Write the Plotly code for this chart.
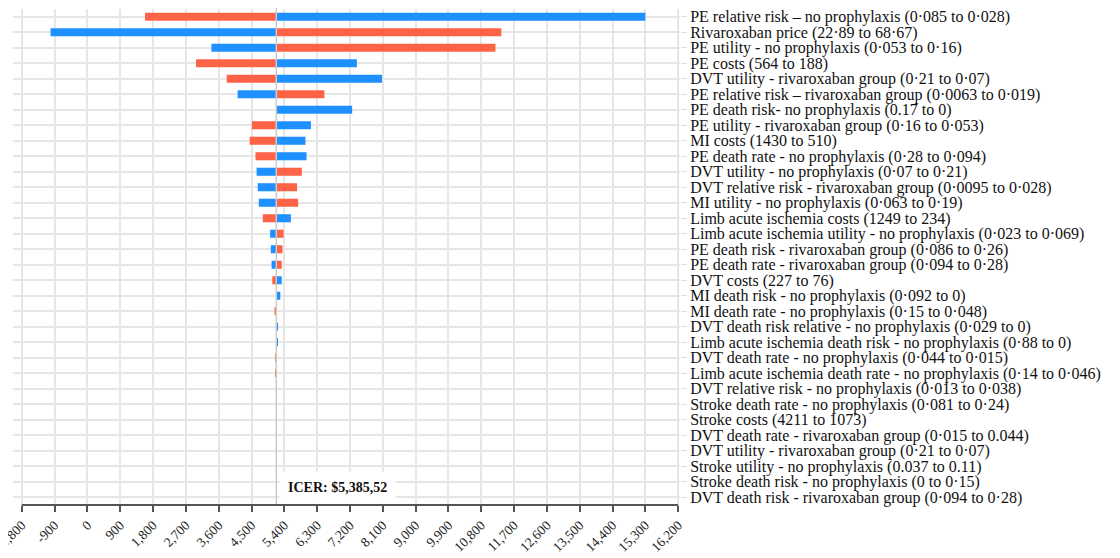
import plotly.graph_objects as go

# ---------------- data ----------------
parameters = [
    "PE relative risk – no prophylaxis (0·085 to 0·028)",
    "Rivaroxaban price (22·89 to 68·67)",
    "PE utility - no prophylaxis (0·053 to 0·16)",
    "PE costs (564 to 188)",
    "DVT utility - rivaroxaban group (0·21 to 0·07)",
    "PE relative risk – rivaroxaban group (0·0063 to 0·019)",
    "PE death risk- no prophylaxis (0.17 to 0)",
    "PE utility - rivaroxaban group (0·16 to 0·053)",
    "MI costs (1430 to 510)",
    "PE death rate - no prophylaxis (0·28 to 0·094)",
    "DVT utility - no prophylaxis (0·07 to 0·21)",
    "DVT relative risk - rivaroxaban group (0·0095 to 0·028)",
    "MI utility - no prophylaxis (0·063 to 0·19)",
    "Limb acute ischemia costs (1249 to 234)",
    "Limb acute ischemia utility - no prophylaxis (0·023 to 0·069)",
    "PE death risk - rivaroxaban group (0·086 to 0·26)",
    "PE death rate - rivaroxaban group (0·094 to 0·28)",
    "DVT costs (227 to 76)",
    "MI death risk - no prophylaxis (0·092 to 0)",
    "MI death rate - no prophylaxis (0·15 to 0·048)",
    "DVT death risk relative - no prophylaxis (0·029 to 0)",
    "Limb acute ischemia death risk - no prophylaxis (0·88 to 0)",
    "DVT death rate - no prophylaxis (0·044 to 0·015)",
    "Limb acute ischemia death rate - no prophylaxis (0·14 to 0·046)",
    "DVT relative risk - no prophylaxis (0·013 to 0·038)",
    "Stroke death rate - no prophylaxis (0·081 to 0·24)",
    "Stroke costs (4211 to 1073)",
    "DVT death rate - rivaroxaban group (0·015 to 0.044)",
    "DVT utility - rivaroxaban group (0·21 to 0·07)",
    "Stroke utility - no prophylaxis (0.037 to 0.11)",
    "Stroke death risk - no prophylaxis (0 to 0·15)",
    "DVT death risk - rivaroxaban group (0·094 to 0·28)",
]

# ICER base line (as drawn on the axis) and the annotation text
icer_base = 5180
icer_label = "ICER: $5,385,52"

# ICER at the end of the red bar and of the blue bar for each parameter
red_icer = [1580, 11350, 11190, 2980, 3820, 6500, 5180, 4510, 4450, 4610,
            5880, 5750, 5780, 4810, 5380, 5350, 5330, 5070, 5180, 5130,
            5180, 5180, 5145, 5145, 5180, 5180, 5180, 5180, 5180, 5180,
            5180, 5180]
blue_icer = [15300, -1010, 3400, 7390, 8080, 4120, 7260, 6130, 5980, 6010,
             4640, 4670, 4700, 5580, 5010, 5030, 5050, 5330, 5290, 5180,
             5225, 5215, 5180, 5180, 5180, 5180, 5180, 5180, 5180, 5180,
             5180, 5180]

x_tick_values = list(range(-1800, 16201, 900))
x_tick_labels = ["-1,800", "-900", "0", "900", "1,800", "2,700", "3,600",
                 "4,500", "5,400", "6,300", "7,200", "8,100", "9,000",
                 "9,900", "10,800", "11,700", "12,600", "13,500", "14,400",
                 "15,300", "16,200"]

# ---------------- figure ----------------
rows = list(range(len(parameters)))
RED = "#FF6347"
BLUE = "#1E90FF"
FONT = "Liberation Serif, Times New Roman, serif"

fig = go.Figure()
fig.add_trace(go.Bar(
    y=rows, x=[v - icer_base for v in red_icer], base=icer_base,
    orientation="h", marker=dict(color=RED, line=dict(width=0)),
    name="red", showlegend=False))
fig.add_trace(go.Bar(
    y=rows, x=[v - icer_base for v in blue_icer], base=icer_base,
    orientation="h", marker=dict(color=BLUE, line=dict(width=0)),
    name="blue", showlegend=False))

# ICER centre line
fig.add_shape(type="line", xref="x", yref="paper", x0=icer_base, x1=icer_base,
              y0=0, y1=1.01, line=dict(color="#cccccc", width=1.5), layer="above")
# x axis base line (only across the ticked range)
fig.add_shape(type="line", xref="x", yref="paper", x0=x_tick_values[0],
              x1=x_tick_values[-1], y0=0, y1=0,
              line=dict(color="#555555", width=2), layer="above")

fig.add_annotation(x=icer_base, y=0.035, xref="x", yref="paper",
                   xanchor="left", yanchor="middle", xshift=3,
                   text="<b>" + icer_label + "</b>", showarrow=False,
                   bgcolor="white", borderpad=8,
                   font=dict(family=FONT, size=14, color="#111111"))

# the page body adds an 8px margin on the top/left, so the figure is offset
fig.update_layout(
    width=1112, height=550,
    margin=dict(l=5, r=440, t=1, b=53, autoexpand=False),
    paper_bgcolor="white", plot_bgcolor="white",
    barmode="overlay", bargap=0.48,
    font=dict(family=FONT, size=14, color="#111111"),
    xaxis=dict(range=[-2040, 16250], tickvals=x_tick_values,
               ticktext=x_tick_labels, tickangle=-45, automargin=False,
               ticklabeloverflow="allow",
               ticks="outside", ticklen=6, tickwidth=1.5, tickcolor="#555555",
               showgrid=True, gridcolor="#e6e6e6", gridwidth=1.5,
               zeroline=False, showline=False,
               tickfont=dict(family=FONT, size=13.5, color="#222222")),
    yaxis=dict(range=[len(parameters) - 0.5, -0.5], tickvals=rows,
               ticktext=parameters, side="right", automargin=False,
               ticklabeloverflow="allow",
               ticks="outside", ticklen=6, tickcolor="#dddddd",
               showgrid=True, gridcolor="#e6e6e6", gridwidth=1.5,
               zeroline=False, showline=False,
               tickfont=dict(family=FONT, size=16, color="#111111")),
)

fig.write_html("out.html")
